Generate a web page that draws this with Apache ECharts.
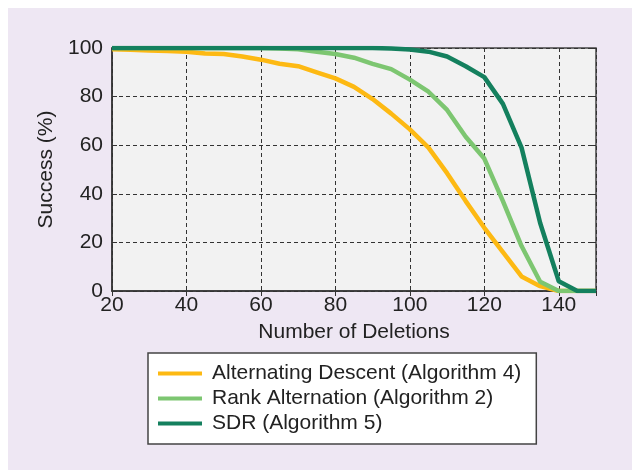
<!doctype html>
<html lang="en">
<head>
<meta charset="UTF-8">
<title>Success vs deletions</title>
<script src="https://cdn.jsdelivr.net/npm/echarts@6/dist/echarts.min.js"></script>
<style>
  html, body { margin: 0; padding: 0; background: #ffffff; }
  #panel { position: absolute; left: 8px; top: 8px; width: 624px; height: 462px; background: #EEE7F3; }
  #chart { position: absolute; left: 0; top: 0; width: 632px; height: 470px; }
</style>
</head>
<body>
<div id="panel"></div>
<div id="chart"></div>
<script>
// number of deletions (x)
var deletions = [20, 25, 30, 35, 40, 45, 50, 55, 60, 65, 70, 75, 80, 85, 90, 95, 100,
                 105, 110, 115, 120, 125, 130, 135, 140, 145, 150];
// success (%)
var altDescent = [99.5, 99.3, 99, 98.8, 98.5, 97.7, 97.5, 96.5, 95.2, 93.5, 92.5, 90, 87.5, 84, 79, 73, 66.5,
                  59, 48.5, 37, 26, 16, 6, 2, 0, 0, 0];
var rankAlt    = [100, 100, 100, 100, 100, 100, 100, 100, 100, 99.8, 99.5, 98.5, 97.5, 96, 93.5, 91.3, 87,
                  82, 74.5, 63.5, 54.5, 37, 18.5, 3.8, 0, 0, 0];
var sdr        = [100, 100, 100, 100, 100, 100, 100, 100, 100, 100, 100, 100, 100, 100, 100, 99.8, 99.4,
                  98.5, 96.5, 92.5, 88, 77, 59, 28, 4, 0, 0];
var seriesNames = ['Alternating Descent (Algorithm 4)', 'Rank Alternation (Algorithm 2)', 'SDR (Algorithm 5)'];
var colors = ['#FDB913', '#7DC671', '#14805E'];

function pairs(ys) {
  var out = [];
  for (var i = 0; i < deletions.length; i++) out.push([deletions[i], ys[i]]);
  return out;
}

var font = 'Liberation Sans, Arial, Helvetica, sans-serif';
var fs = 21;
var chart = echarts.init(document.getElementById('chart'));

function line(name, ys, color) {
  return {
    name: name,
    type: 'line',
    data: pairs(ys),
    showSymbol: false,
    symbol: 'none',
    lineStyle: { color: color, width: 4.5 },
    itemStyle: { color: color },
    z: 3
  };
}

chart.setOption({
  animation: false,
  textStyle: { fontFamily: font },
  grid: {
    left: 112, right: 36, top: 48, bottom: 179,
    show: true, backgroundColor: '#F2F2F2', borderColor: '#444', borderWidth: 1.5
  },
  xAxis: [{
    type: 'value', min: 20, max: 150, interval: 20,
    name: 'Number of Deletions', nameLocation: 'middle', nameGap: 31,
    nameTextStyle: { fontSize: fs, color: '#222', fontFamily: font },
    axisLine: { show: true, lineStyle: { color: '#333', width: 1.5 } },
    axisTick: { show: true, inside: true, length: 5, lineStyle: { color: '#333' } },
    axisLabel: { fontSize: fs, color: '#222', margin: 4, showMaxLabel: false, fontFamily: font },
    splitLine: { show: true, lineStyle: { color: '#333', type: [4, 3], width: 1 } }
  }, {
    type: 'value', min: 20, max: 150, interval: 20, position: 'top',
    axisLine: { show: false },
    axisTick: { show: true, inside: true, length: 5, lineStyle: { color: '#333' } },
    axisLabel: { show: false },
    splitLine: { show: false }
  }],
  yAxis: [{
    type: 'value', min: 0, max: 100, interval: 20,
    name: 'Success (%)', nameLocation: 'middle', nameGap: 53,
    nameTextStyle: { fontSize: fs, color: '#222', fontFamily: font },
    axisLine: { show: true, lineStyle: { color: '#333', width: 1.5 } },
    axisTick: { show: true, inside: true, length: 5, lineStyle: { color: '#333' } },
    axisLabel: { fontSize: fs, color: '#222', margin: 9, fontFamily: font },
    splitLine: { show: true, lineStyle: { color: '#333', type: [4, 3], width: 1 } }
  }, {
    type: 'value', min: 0, max: 100, interval: 20, position: 'right',
    axisLine: { show: false },
    axisTick: { show: true, inside: true, length: 5, lineStyle: { color: '#333' } },
    axisLabel: { show: false },
    splitLine: { show: false }
  }],
  legend: {
    orient: 'vertical',
    left: 148, top: 353,
    data: seriesNames,
    icon: 'rect',
    itemWidth: 44, itemHeight: 4,
    itemGap: 4,
    padding: [10, 15, 10, 10],
    backgroundColor: '#ffffff',
    borderColor: '#444', borderWidth: 1.5, borderRadius: 0,
    textStyle: { fontSize: fs, color: '#222', fontFamily: font, padding: [0, 0, 0, 5] }
  },
  series: [
    line(seriesNames[0], altDescent, colors[0]),
    line(seriesNames[1], rankAlt, colors[1]),
    line(seriesNames[2], sdr, colors[2])
  ]
});

window.onresize = function () { chart.resize(); };
</script>
</body>
</html>
